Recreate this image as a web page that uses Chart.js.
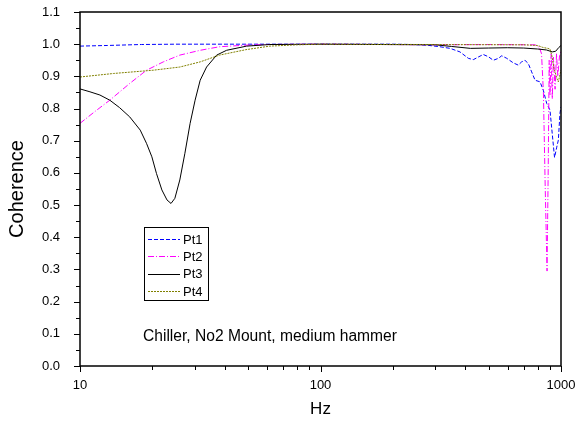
<!DOCTYPE html>
<html>
<head>
<meta charset="utf-8">
<script src="https://cdn.jsdelivr.net/npm/chart.js@4/dist/chart.umd.min.js"></script>
<style>
  html, body { margin: 0; padding: 0; background: #fff; }
  #wrap { width: 577px; height: 421px; }
</style>
</head>
<body>
<div id="wrap"><canvas id="cohChart" width="577" height="421"></canvas></div>
<script>
// ---- data ----
const pt1Hz  = [10, 13, 18, 25, 60, 200, 242, 276, 314, 346, 380, 412, 432, 461, 475, 499, 523, 549, 567, 595, 633, 664, 686, 708, 731, 755, 780, 818, 844, 872, 900, 920, 940, 960, 975, 990, 1000];
const pt1Coh = [0.994, 0.996, 0.999, 1.0, 1.0, 1.0, 0.999, 0.997, 0.992, 0.987, 0.976, 0.956, 0.952, 0.963, 0.968, 0.961, 0.950, 0.956, 0.964, 0.956, 0.942, 0.935, 0.945, 0.950, 0.940, 0.914, 0.888, 0.883, 0.857, 0.816, 0.795, 0.72, 0.648, 0.68, 0.702, 0.785, 0.805];

const pt2Hz  = [10, 11.5, 13.3, 16.1, 18.9, 22.2, 26, 31.6, 38, 49, 60, 100, 300, 500, 780, 813, 830, 845, 860, 875, 885, 893, 900, 910, 920, 930, 945, 958, 970, 985, 1000];
const pt2Coh = [0.754, 0.79, 0.826, 0.878, 0.919, 0.945, 0.966, 0.981, 0.992, 0.997, 0.999, 1.0, 0.998, 0.999, 0.998, 0.99, 0.97, 0.85, 0.55, 0.295, 0.62, 0.95, 0.84, 0.97, 0.83, 0.96, 0.86, 0.97, 0.90, 0.96, 0.98];

const pt3Hz  = [10, 11, 12.1, 13.3, 14.6, 16.1, 17.8, 18.9, 19.9, 20.8, 21.9, 23, 23.9, 24.8, 26, 27.3, 28.7, 30.1, 31.6, 33.6, 37, 40.7, 49.3, 61.6, 100, 300, 350, 420, 500, 600, 700, 800, 870, 920, 950, 980, 1000];
const pt3Coh = [0.861, 0.852, 0.842, 0.826, 0.803, 0.774, 0.733, 0.692, 0.65, 0.598, 0.547, 0.516, 0.505, 0.521, 0.578, 0.661, 0.754, 0.826, 0.888, 0.929, 0.966, 0.981, 0.994, 0.999, 1.0, 0.998, 0.993, 0.987, 0.988, 0.989, 0.988, 0.985, 0.982, 0.976, 0.978, 0.99, 0.996];

const pt4Hz  = [10, 13.8, 20.1, 26, 31.6, 38, 49, 61.6, 80, 100, 700, 800, 840, 880, 900, 915, 935, 962, 975, 990, 1000];
const pt4Coh = [0.898, 0.909, 0.919, 0.929, 0.945, 0.966, 0.983, 0.994, 0.998, 1.0, 0.998, 0.996, 0.99, 0.987, 0.985, 0.966, 0.925, 0.893, 0.883, 0.905, 0.92];

const seriesNames = ['Pt1', 'Pt2', 'Pt3', 'Pt4'];
const xMajorTicks = [10, 100, 1000];
const xMinorTicks = [20, 30, 40, 50, 60, 70, 80, 90, 200, 300, 400, 500, 600, 700, 800, 900];
const yMajorTicks = [0, 0.1, 0.2, 0.3, 0.4, 0.5, 0.6, 0.7, 0.8, 0.9, 1.0, 1.1];
const yMinorTicks = [0.05, 0.15, 0.25, 0.35, 0.45, 0.55, 0.65, 0.75, 0.85, 0.95, 1.05];
const noteText = 'Chiller, No2 Mount, medium hammer';

const FONT = "'Liberation Sans', Arial, sans-serif";

// pair up x / y arrays for Chart.js
function toPoints(xs, ys) {
    return xs.map((x, i) => ({ x: x, y: ys[i] }));
}

// frame, outward ticks, inset legend and the note
const decorPlugin = {
    id: 'decor',
    afterDraw(chart) {
        const ctx = chart.ctx;
        const area = chart.chartArea;
        const xs = chart.scales.x;
        const ys = chart.scales.y;
        ctx.save();
        ctx.strokeStyle = '#000';

        // ticks (outward, minor ones shorter)
        ctx.lineWidth = 1;
        ctx.beginPath();
        xMajorTicks.forEach(v => {
            const px = Math.round(xs.getPixelForValue(v)) + 0.5;
            ctx.moveTo(px, area.bottom); ctx.lineTo(px, area.bottom + 6);
        });
        xMinorTicks.forEach(v => {
            const px = Math.round(xs.getPixelForValue(v)) + 0.5;
            ctx.moveTo(px, area.bottom); ctx.lineTo(px, area.bottom + 4);
        });
        yMajorTicks.forEach(v => {
            const py = Math.round(ys.getPixelForValue(v)) + 0.5;
            ctx.moveTo(area.left, py); ctx.lineTo(area.left - 6, py);
        });
        yMinorTicks.forEach(v => {
            const py = Math.round(ys.getPixelForValue(v)) + 0.5;
            ctx.moveTo(area.left, py); ctx.lineTo(area.left - 4, py);
        });
        ctx.stroke();

        // frame
        ctx.lineWidth = 1.5;
        ctx.strokeRect(area.left, area.top, area.right - area.left, area.bottom - area.top);

        // legend box
        const lx = 144, ly = 227, lw = 64, lh = 73;
        ctx.lineWidth = 1;
        ctx.strokeRect(lx + 0.5, ly + 0.5, lw, lh);
        ctx.font = '13px ' + FONT;
        ctx.fillStyle = '#000';
        ctx.textBaseline = 'alphabetic';
        ctx.textAlign = 'left';
        chart.data.datasets.forEach((ds, i) => {
            const yy = ly + 12 + i * 17.3;
            ctx.save();
            ctx.strokeStyle = ds.borderColor;
            ctx.lineWidth = 1;
            ctx.setLineDash(ds.borderDash || []);
            ctx.beginPath();
            ctx.moveTo(lx + 4, Math.round(yy) + 0.5);
            ctx.lineTo(lx + 36, Math.round(yy) + 0.5);
            ctx.stroke();
            ctx.restore();
            ctx.fillText(ds.label, lx + 39, yy + 4.7);
        });

        // note
        ctx.font = '15.6px ' + FONT;
        ctx.fillText(noteText, 143, 340.5);
        ctx.restore();
    }
};

const ctx = document.getElementById('cohChart').getContext('2d');
const cohChart = new Chart(ctx, {
    type: 'line',
    data: {
        datasets: [
            { label: seriesNames[0], data: toPoints(pt1Hz, pt1Coh), borderColor: '#0000ff', borderDash: [4, 2], order: 4 },
            { label: seriesNames[1], data: toPoints(pt2Hz, pt2Coh), borderColor: '#ff00ff', borderDash: [6, 2, 1, 2], order: 3 },
            { label: seriesNames[2], data: toPoints(pt3Hz, pt3Coh), borderColor: '#000000', order: 2 },
            { label: seriesNames[3], data: toPoints(pt4Hz, pt4Coh), borderColor: '#808000', borderDash: [2, 1], order: 1 }
        ]
    },
    options: {
        responsive: false,
        animation: false,
        events: [],
        datasets: {
            line: { borderWidth: 1, pointRadius: 0, tension: 0, fill: false }
        },
        layout: { padding: { top: 12, right: 16, left: 0, bottom: 0 } },
        plugins: {
            legend: { display: false },
            tooltip: { enabled: false }
        },
        scales: {
            x: {
                type: 'logarithmic',
                min: 10,
                max: 1000,
                grid: { display: false },
                border: { display: false },
                afterBuildTicks: scale => {
                    scale.ticks = xMajorTicks.map(v => ({ value: v }));
                },
                afterFit: scale => {
                    scale.height = 55;
                    scale.paddingLeft = 0;
                    scale.paddingRight = 0;
                },
                ticks: {
                    color: '#000',
                    font: { family: FONT, size: 13 },
                    padding: 4,
                    maxRotation: 0,
                    callback: v => String(v)
                },
                title: {
                    display: true,
                    text: 'Hz',
                    color: '#000',
                    font: { family: FONT, size: 17 },
                    padding: { top: 0, bottom: 1 }
                }
            },
            y: {
                min: 0,
                max: 1.1,
                grid: { display: false },
                border: { display: false },
                afterBuildTicks: scale => {
                    scale.ticks = yMajorTicks.map(v => ({ value: v }));
                },
                afterFit: scale => {
                    scale.width = 80;
                    scale.paddingTop = 0;
                    scale.paddingBottom = 0;
                },
                ticks: {
                    color: '#000',
                    font: { family: FONT, size: 13 },
                    padding: 12,
                    callback: v => Number(v).toFixed(1)
                },
                title: {
                    display: true,
                    text: 'Coherence',
                    color: '#000',
                    font: { family: FONT, size: 20 },
                    padding: { top: 5.5, bottom: 0 }
                }
            }
        }
    },
    plugins: [decorPlugin]
});
</script>
</body>
</html>
